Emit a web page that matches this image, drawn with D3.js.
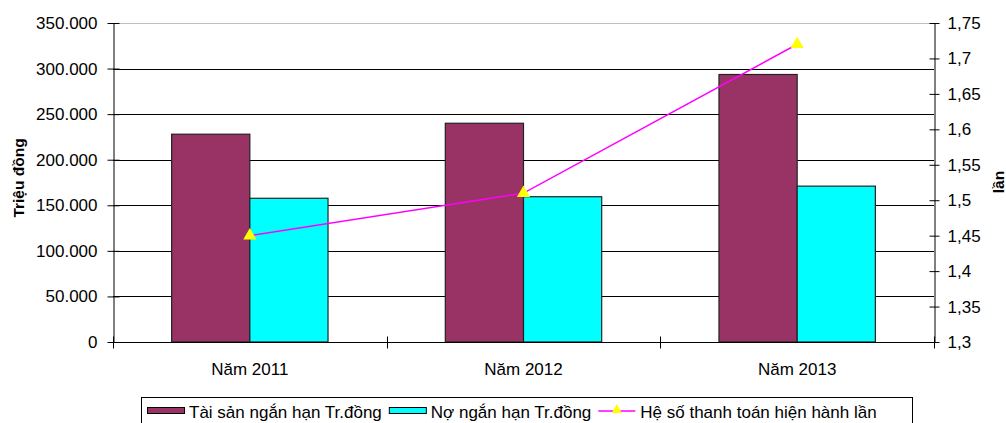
<!DOCTYPE html>
<html>
<head>
<meta charset="utf-8">
<script src="https://cdn.jsdelivr.net/npm/d3@7/dist/d3.min.js"></script>
<style>
  html, body { margin: 0; padding: 0; background: #fff; }
  svg { display: block; font-family: "Liberation Sans", Arial, sans-serif; }
</style>
</head>
<body>
<svg id="chart" width="1006" height="423"></svg>
<script>
// Chart data
const categories = ["Năm 2011", "Năm 2012", "Năm 2013"];
const seriesNames = ["Tài sản ngắn hạn Tr.đồng", "Nợ ngắn hạn Tr.đồng", "Hệ số thanh toán hiện hành lần"];
const taiSan = [228000, 240000, 293500];
const noNganHan = [157700, 159400, 171000];
const heSo = [1.45, 1.51, 1.72];
const leftTicks = [0, 50000, 100000, 150000, 200000, 250000, 300000, 350000];
const rightTicks = [1.3, 1.35, 1.4, 1.45, 1.5, 1.55, 1.6, 1.65, 1.7, 1.75];

const colors = { taiSan: "#993366", no: "#00FFFF", line: "#FF00FF", marker: "#FFFF00" };
const FS = 17;

const svg = d3.select("#chart");
const plot = { left: 113, right: 934, top: 23, bottom: 342 };

const x = d3.scaleBand().domain(categories).range([plot.left, plot.right]).padding(0);
const xSub = d3.scaleBand().domain(["taiSan", "no"]).range([0, x.bandwidth()])
  .paddingInner(0).paddingOuter(0.75);
const yL = d3.scaleLinear().domain([0, 350000]).range([plot.bottom, plot.top]);
const yR = d3.scaleLinear().domain([1.3, 1.75]).range([plot.bottom, plot.top]);

const fmtL = v => d3.format(",")(v).replace(/,/g, ".");
const fmtR = v => String(+v.toFixed(2)).replace(".", ",");

// Gridlines
svg.append("g").selectAll("line").data(leftTicks.filter(t => t > 0)).join("line")
  .attr("x1", plot.left).attr("x2", plot.right)
  .attr("y1", d => Math.round(yL(d)) + 0.5).attr("y2", d => Math.round(yL(d)) + 0.5)
  .attr("stroke", d => d === 350000 ? "#c0c0c0" : "#000").attr("stroke-width", 1);

// Bars
const groups = categories.map((c, i) => ({ c, taiSan: taiSan[i], no: noNganHan[i] }));
const barG = svg.append("g");
["taiSan", "no"].forEach(key => {
  barG.selectAll("rect." + key).data(groups).join("rect")
    .attr("class", key)
    .attr("x", d => x(d.c) + xSub(key))
    .attr("width", xSub.bandwidth())
    .attr("y", d => yL(d[key]))
    .attr("height", d => plot.bottom - yL(d[key]))
    .attr("fill", colors[key])
    .attr("stroke", "#222")
    .attr("stroke-width", 1.2);
});

// Left axis
const axL = svg.append("g").attr("transform", `translate(${plot.left + 0.5},0)`)
  .call(d3.axisLeft(yL).tickValues(leftTicks).tickFormat(fmtL).tickSize(0).tickPadding(16));
axL.select(".domain").attr("stroke", "#000");
axL.selectAll(".tick line").attr("x1", -6).attr("x2", 6).attr("stroke", "#000");
axL.selectAll("text").attr("font-size", FS).attr("fill", "#000").attr("font-family", "Liberation Sans, Arial, sans-serif");

// Right axis
const axR = svg.append("g").attr("transform", `translate(${plot.right + 0.5},0)`)
  .call(d3.axisRight(yR).tickValues(rightTicks).tickFormat(fmtR).tickSize(0).tickPadding(13));
axR.select(".domain").attr("stroke", "#000");
axR.selectAll(".tick line").attr("x1", -5).attr("x2", 5).attr("stroke", "#000");
axR.selectAll("text").attr("font-size", FS).attr("fill", "#000").attr("font-family", "Liberation Sans, Arial, sans-serif");

// Bottom axis with category boundary ticks
const axB = svg.append("g").attr("transform", `translate(0,${plot.bottom + 0.5})`);
axB.append("line").attr("x1", plot.left).attr("x2", plot.right).attr("stroke", "#000");
const bounds = categories.map(c => x(c)).concat([plot.right]);
axB.selectAll("line.tk").data(bounds).join("line").attr("class", "tk")
  .attr("x1", d => Math.round(d) + 0.5).attr("x2", d => Math.round(d) + 0.5)
  .attr("y1", -6).attr("y2", 6).attr("stroke", "#000");
axB.selectAll("text").data(categories).join("text")
  .attr("x", d => x(d) + x.bandwidth() / 2).attr("y", 32)
  .attr("text-anchor", "middle").attr("font-size", FS).attr("fill", "#000")
  .text(d => d);

// Axis titles
svg.append("text").attr("transform", "translate(24,178) rotate(-90)")
  .attr("text-anchor", "middle").attr("font-size", 15.5).attr("font-weight", "bold")
  .text("Triệu đồng");
svg.append("text").attr("transform", "translate(1004,182) rotate(-90)")
  .attr("text-anchor", "middle").attr("font-size", 15.5).attr("font-weight", "bold")
  .text("lần");

// Ratio line
const pts = categories.map((c, i) => [x(c) + x.bandwidth() / 2, yR(heSo[i])]);
svg.append("path").attr("d", d3.line()(pts))
  .attr("fill", "none").attr("stroke", colors.line).attr("stroke-width", 1.5);
const tri = d3.symbol().type(d3.symbolTriangle).size(75);
svg.append("g").selectAll("path").data(pts).join("path")
  .attr("transform", d => `translate(${d[0]},${d[1]})`)
  .attr("d", tri).attr("fill", colors.marker);

// Legend
const leg = svg.append("g");
leg.append("rect").attr("x", 141.5).attr("y", 397.5).attr("width", 771).attr("height", 40)
  .attr("fill", "#fff").attr("stroke", "#000");
const ty = 418;
let cx = 147;
[0, 1, 2].forEach(i => {
  if (i < 2) {
    leg.append("rect").attr("x", cx + 0.5).attr("y", 407.5).attr("width", 37).attr("height", 6)
      .attr("fill", i === 0 ? colors.taiSan : colors.no).attr("stroke", "#000");
  } else {
    leg.append("line").attr("x1", cx).attr("x2", cx + 37).attr("y1", 411).attr("y2", 411)
      .attr("stroke", colors.line).attr("stroke-width", 1.5);
    leg.append("path").attr("transform", `translate(${cx + 18.5},410)`)
      .attr("d", d3.symbol().type(d3.symbolTriangle).size(45)).attr("fill", colors.marker);
  }
  const t = leg.append("text").attr("x", cx + 42).attr("y", ty).attr("font-size", FS).attr("fill", "#000")
    .text(seriesNames[i]);
  cx += 42 + t.node().getComputedTextLength() + 7;
});
</script>
</body>
</html>
